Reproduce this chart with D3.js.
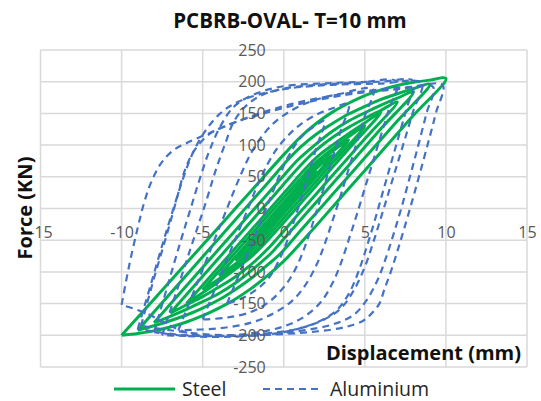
<!DOCTYPE html>
<html>
<head>
<meta charset="utf-8">
<script src="https://cdn.jsdelivr.net/npm/d3@7"></script>
<style>
  html, body { margin: 0; padding: 0; background: #fff; }
  svg { display: block; }
  text { font-family: "Open Sans", "Noto Sans", sans-serif; }
</style>
</head>
<body>
<svg id="chart" width="541" height="401"></svg>
<script>
// Axis ticks
const xTicks = [-15, -10, -5, 0, 5, 10, 15];
const yTicks = [-250, -200, -150, -100, -50, 0, 50, 100, 150, 200, 250];

// Series names
const seriesNames = ["Steel", "Aluminium"];

// Steel hysteresis cycles: [displacement (mm), force (kN)]
const steelCycles = [
  [[-2,-56],[0,1],[2,58],[0,-1],[-2,-56]],
  [[-3,-82],[0,5],[2,63],[3,84],[0,-3],[-2,-61],[-3,-82]],
  [[-4,-106],[-2,-48],[0,10],[2,68],[3,90],[4,108],[2,50],[0,-8],[-2,-66],[-3,-88],[-4,-106]],
  [[-5,-128],[-3,-70],[-1,-12],[1,46],[1.5,60],[2,73],[3,94],[4,113],[5,130],
   [3,72],[1,14],[-1,-44],[-1.5,-59],[-2,-72],[-3,-92],[-4,-111],[-5,-128]],
  [[-6,-150],[-4,-92],[-2,-34],[0,24],[1.2,59],[2,80],[3,100],[4,118],[5,135],[6,152],
   [4,94],[2,36],[0,-22],[-1.2,-56],[-2,-76],[-3,-96],[-4,-115],[-5,-133],[-6,-150]],
  [[-7,-165],[-5,-107],[-3,-49],[-1,9],[1,67],[2,92],[3,112],[4,128],[5,142],[6,155],[7,168],
   [5,110],[3,52],[1,-6],[-1,-64],[-2,-88],[-3,-108],[-4,-124],[-5,-139],[-6,-152],[-7,-165]],
  [[-8,-180],[-6,-122],[-4,-64],[-2,-6],[0,52],[0.8,75],[2,102],[3,122],[4,138],[5,151],[6,163],[7,174],[8,184],
   [6,126],[4,68],[2,10],[0,-48],[-0.8,-71],[-2,-98],[-3,-118],[-4,-134],[-5,-147],[-6,-159],[-7,-170],[-8,-180]],
  [[-9,-192],[-7,-134],[-5,-76],[-3,-18],[-1,40],[0.3,78],[1,96],[2,117],[3,134],[4,149],[5,161],[6,172],[7,181],[8,189],[9,196],
   [7,138],[5,80],[3,22],[1,-36],[-0.2,-71],[-1,-89],[-2,-110],[-3,-128],[-4,-144],[-5,-157],[-6,-168],[-7,-177],[-8,-185],[-9,-192]],
  [[-10,-200],[-8,-143],[-6,-86],[-4,-29],[-2,28],[0,85],[1,112],[2,134],[3,152],[4,166],[5,178],[6,187],[7,194],[8,199],[9,202.5],[10,205],
   [8,147],[6,89],[4,31],[2,-27],[0.5,-70],[0,-83],[-1,-106],[-2,-126],[-3,-143],[-4,-157],[-5,-169],[-6,-179],[-7,-187],[-8,-193],[-9,-197],[-10,-200]]
];

// Aluminium hysteresis cycles: [displacement (mm), force (kN)]
const aluminiumCycles = [
  [[-3.5,-150],[-2.5,-88],[-1.5,-26],[-0.8,18],[-0.3,50],[0.2,78],[0.7,100],[1.2,116],[1.8,128],[2.5,138],
   [2,95],[1.5,52],[1,10],[0.5,-30],[0,-65],[-0.5,-92],[-1,-112],[-1.8,-130],[-2.6,-142],[-3.5,-150]],
  [[-5,-175],[-4,-112],[-3,-49],[-2.2,0],[-1.6,38],[-1,70],[-0.4,95],[0.3,116],[1,132],[2,148],[3,158],[4,165],
   [3.5,122],[3,79],[2.5,36],[2,-6],[1.5,-46],[1,-80],[0.4,-110],[-0.3,-133],[-1,-149],[-2,-163],[-3.5,-172],[-5,-175]],
  [[-6.5,-192],[-5.5,-128],[-4.5,-64],[-3.5,0],[-3,32],[-2.5,62],[-2,88],[-1.4,112],[-0.6,135],[0.5,155],[1.8,170],[3.5,181],[5.5,188],
   [5,146],[4.5,104],[4,62],[3.5,20],[3,-20],[2.5,-58],[2,-90],[1.3,-122],[0.5,-146],[-0.6,-165],[-2,-180],[-4,-189],[-6.5,-192]],
  [[-7.5,-200],[-6.5,-122],[-5.5,-44],[-4.8,10],[-4.2,60],[-3.6,103],[-3.1,136],[-2.4,160],[-1.5,177],[-0.2,188],[2,195],[4.5,198],[7,200],
   [6.5,158],[6,116],[5.5,74],[5,32],[4.5,-10],[4,-50],[3.5,-88],[3,-118],[2.3,-147],[1.3,-170],[0,-186],[-2,-197],[-4.5,-201],[-7.5,-200]],
  [[-8,-195],[-7.2,-125],[-6.4,-55],[-5.8,-5],[-5.2,45],[-4.6,90],[-3.9,130],[-3.1,160],[-2,178],[-0.2,192],[3,198],[6,200],[8,201],
   [7.6,160],[7.1,115],[6.6,70],[6.1,25],[5.6,-20],[5.1,-62],[4.6,-100],[4,-135],[3.2,-162],[2,-180],[0,-195],[-3,-202],[-6,-201],[-8,-195]],
  [[-8.8,-185],[-8,-110],[-7.2,-40],[-6.6,15],[-6.1,60],[-5.5,92],[-4.5,119],[-3.1,135],[-1.5,148],[1,165],[4,180],[7,188],[9.2,192],
   [8.8,150],[8.3,100],[7.8,52],[7.3,5],[6.8,-38],[6.3,-78],[5.8,-112],[5.1,-145],[4.3,-168],[3,-183],[1,-193],[-2,-200],[-5,-198],[-7,-192],[-8.8,-185]],
  [[-9,-190],[-8.2,-120],[-7.4,-50],[-6.8,0],[-6.2,48],[-5.6,88],[-4.9,120],[-4,148],[-3,166],[-1.5,180],[0.5,190],[3,195],[6,197],[8.5,198],
   [8,155],[7.5,112],[7,70],[6.5,28],[6,-14],[5.5,-55],[5,-92],[4.3,-130],[3.5,-158],[2.5,-175],[1,-189],[-1.5,-198],[-4,-201],[-6.5,-199],[-9,-190]],
  [[-10,-152],[-9.5,-86],[-9,-30],[-8.6,10],[-8.2,40],[-7.6,70],[-6.8,92],[-6,103],[-4.5,120],[-3,136],[-1.5,150],[0.5,165],[3,178],[6,188],[8,192],[9.8,195],
   [9.4,152],[9,113],[8.4,56],[7.9,10],[7.4,-34],[7,-68],[6.6,-100],[6.2,-128],[5.9,-150],[5.4,-166],[4.9,-177],[3.8,-187],[2,-194],[0,-198],[-3,-201],[-5.5,-199],[-7,-185],[-8.5,-165],[-10,-152]]
];

const svg = d3.select("#chart");
const plot = { left: 40.5, right: 527, top: 50, bottom: 367 };

const x = d3.scaleLinear().domain([-15, 15]).range([plot.left, plot.right]);
const y = d3.scaleLinear().domain([-250, 250]).range([plot.bottom, plot.top]);

const gridColor = "#d9d9d9";
const steelColor = "#00b050";
const aluColor = "#4472c4";

// Gridlines
const grid = svg.append("g");
grid.selectAll("line.v").data(xTicks).join("line")
  .attr("x1", d => x(d)).attr("x2", d => x(d))
  .attr("y1", y(250)).attr("y2", y(-250))
  .attr("stroke", gridColor).attr("stroke-width", 1.5);
grid.selectAll("line.h").data(yTicks).join("line")
  .attr("x1", x(-15)).attr("x2", x(15))
  .attr("y1", d => y(d)).attr("y2", d => y(d))
  .attr("stroke", gridColor).attr("stroke-width", 1.5);

const line = d3.line()
  .x(d => x(d[0])).y(d => y(d[1]))
  .curve(d3.curveCatmullRom.alpha(0.5));

// Steel series
svg.append("g").selectAll("path").data(steelCycles).join("path")
  .attr("d", line)
  .attr("fill", "none")
  .attr("stroke", steelColor)
  .attr("stroke-width", 3)
  .attr("stroke-linejoin", "round");

// Aluminium series
svg.append("g").selectAll("path").data(aluminiumCycles).join("path")
  .attr("d", line)
  .attr("fill", "none")
  .attr("stroke", aluColor)
  .attr("stroke-width", 2.2)
  .attr("stroke-dasharray", "7,5");

// Axes through the origin (plain hyphen for negative numbers)
const fmt = d => String(d);
const xAxis = d3.axisBottom(x).tickValues(xTicks).tickFormat(fmt).tickSize(0).tickPadding(18);
const yAxis = d3.axisLeft(y).tickValues(yTicks).tickFormat(fmt).tickSize(0).tickPadding(18);

const gx = svg.append("g").attr("transform", `translate(0,${y(0)})`).call(xAxis);
const gy = svg.append("g").attr("transform", `translate(${x(0)},0)`).call(yAxis);
[gx, gy].forEach(g => {
  g.select(".domain").remove();
  g.selectAll("text")
    .attr("fill", "#595959")
    .style("font-size", "16px")
    .style("font-family", "'Open Sans', sans-serif");
});

// Title
svg.append("text")
  .attr("x", 290).attr("y", 28)
  .attr("text-anchor", "middle")
  .style("font-size", "20.5px").style("font-weight", "bold")
  .attr("fill", "#111")
  .text("PCBRB-OVAL- T=10 mm");

// Axis titles
svg.append("text")
  .attr("x", 521).attr("y", 360)
  .attr("text-anchor", "end")
  .style("font-size", "20px").style("font-weight", "bold")
  .attr("fill", "#111")
  .text("Displacement (mm)");

svg.append("text")
  .attr("transform", "translate(32,208) rotate(-90)")
  .attr("text-anchor", "middle")
  .style("font-size", "20px").style("font-weight", "bold")
  .attr("fill", "#111")
  .text("Force (KN)");

// Legend
const legend = svg.append("g");
const legendItems = [
  { name: seriesNames[0], x0: 114, x1: 175, tx: 182, color: steelColor, dash: null, w: 3 },
  { name: seriesNames[1], x0: 263, x1: 323, tx: 330, color: aluColor, dash: "7,5", w: 2.2 }
];
legendItems.forEach(it => {
  legend.append("line")
    .attr("x1", it.x0).attr("x2", it.x1).attr("y1", 389).attr("y2", 389)
    .attr("stroke", it.color).attr("stroke-width", it.w)
    .attr("stroke-dasharray", it.dash);
  legend.append("text")
    .attr("x", it.tx).attr("y", 396)
    .style("font-size", "19.5px")
    .attr("fill", "#262626")
    .text(it.name);
});
</script>
</body>
</html>
